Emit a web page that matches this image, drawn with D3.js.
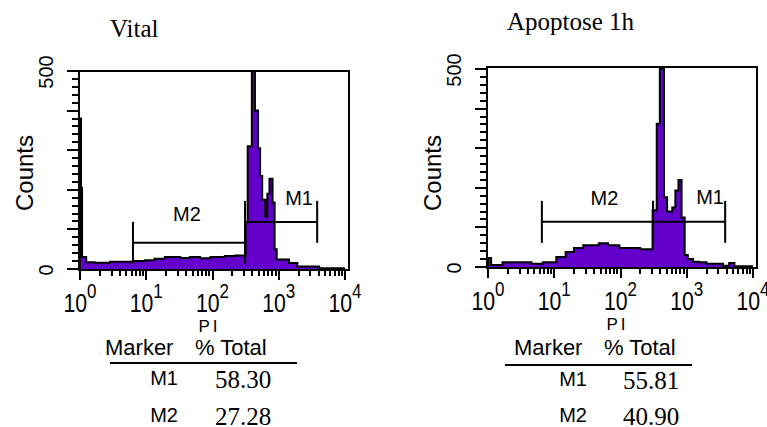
<!DOCTYPE html>
<html><head><meta charset="utf-8">
<script src="https://cdn.jsdelivr.net/npm/d3@7"></script>
<style>body{margin:0;background:#fff}svg{display:block}</style>
</head><body>
<svg id="chart" width="767" height="427"></svg>
<script>
// ---------- data ----------
const panelTitles = ["Vital", "Apoptose 1h"];
// histogram runs: start channel (256 channels over 4 log decades) and counts
const vitalChannels = [0,1,2,6,14,29,51,63,72,82,97,106,116,126,140,150,160,162,166,169,172,174,176,179,181,183,186,188,190,202,210,231];
const vitalCounts   = [380,205,30,17,16,18,20,22,26,30,28,30,27,30,33,34,118,310,500,400,305,235,175,132,190,228,168,50,24,15,6,2];
const apoChannels = [0,3,14,42,53,66,75,83,92,107,116,127,147,159,163,166,170,173,178,181,184,187,190,193,198,204,211,227,233,238];
const apoCounts   = [23,5,12,8,12,25,38,48,55,60,55,48,45,143,362,500,176,140,150,193,220,125,30,20,13,12,8,3,10,2];
const markerNames = ["M1", "M2"];
const vitalGates = [[310, 3800], [6.3, 310]];
const apoGates   = [[310, 3800], [6.5, 310]];
const vitalPercent = [58.30, 27.28];
const apoPercent   = [55.81, 40.90];
const xTickExponents = [0, 1, 2, 3, 4];
const yTickLabels = [0, 500];
const xAxisLabel = "PI";
const yAxisLabel = "Counts";
const tableHeader = ["Marker", "% Total"];

// ---------- layout ----------
const panels = [
  {title: panelTitles[0], ch: vitalChannels, counts: vitalCounts, gates: vitalGates, pct: vitalPercent,
   x0: 80, x1: 345, y0: 269, y1: 71, frame: [79, 71, 349, 270], titleX: 110, titleY: 37,
   markerY: [119, 66], labelDx: [18, -2], labelGap: [17, 22],
   tb: {markerX: 105, totalX: 195, rule: [110, 297], ruleY: 363, headY: 355, nameRight: 178, valX: 215, rowY: [385, 422]}},
  {title: panelTitles[1], ch: apoChannels, counts: apoCounts, gates: apoGates, pct: apoPercent,
   x0: 488, x1: 753, y0: 267, y1: 69, frame: [487, 67, 757, 268], titleX: 507, titleY: 30,
   markerY: [114, 114], labelDx: [21, 7], labelGap: [18, 17],
   tb: {markerX: 514, totalX: 604, rule: [505, 692], ruleY: 365, headY: 355, nameRight: 587, valX: 623, rowY: [386, 422]}}
];

const SANS = "'Liberation Sans', Arial, Helvetica, sans-serif";
const SERIF = "'Liberation Serif', 'Times New Roman', serif";
const FILL = "#6300cc";
const svg = d3.select("#chart");

panels.forEach((p, pi) => {
  const x = d3.scaleLog().domain([1, 1e4]).range([p.x0, p.x1]);
  const y = d3.scaleLinear().domain([0, 500]).range([p.y0, p.y1]);
  const g = svg.append("g");

  g.append("text").attr("x", p.titleX).attr("y", p.titleY)
    .attr("font-family", SERIF).attr("font-size", 25).text(p.title);

  const [fx0, fy0, fx1, fy1] = p.frame;
  const cid = "clip" + pi;
  svg.append("clipPath").attr("id", cid).append("rect")
    .attr("x", fx0).attr("y", fy0).attr("width", fx1 - fx0).attr("height", fy1 - fy0);

  // histogram
  const pts = p.ch.map((c, i) => ({v: Math.pow(10, c / 64), n: p.counts[i]}));
  pts.push({v: 1e4, n: p.counts[p.counts.length - 1]});
  const area = d3.area().curve(d3.curveStepAfter)
    .x(d => x(d.v)).y0(y(0)).y1(d => y(d.n));
  const line = d3.line().curve(d3.curveStepAfter)
    .x(d => x(d.v)).y(d => y(d.n));
  const hg = g.append("g").attr("clip-path", `url(#${cid})`);
  hg.append("path").datum(pts).attr("d", area).attr("fill", FILL);
  hg.append("path").datum([{v: 1, n: 0}].concat(pts)).attr("d", line)
    .attr("fill", "none").attr("stroke", "#000").attr("stroke-width", 2);

  // frame
  g.append("rect").attr("x", fx0).attr("y", fy0).attr("width", fx1 - fx0).attr("height", fy1 - fy0)
    .attr("fill", "none").attr("stroke", "#000").attr("stroke-width", 2);

  // y ticks (major every 100, minor every 20) drawn as filled rects
  const yt = d3.range(0, 501, 20);
  g.append("g").selectAll("rect").data(yt).join("rect")
    .attr("x", d => fx0 - (d % 100 === 0 ? 12 : 7))
    .attr("y", d => Math.round(y(d)) - 1)
    .attr("width", d => (d % 100 === 0 ? 12 : 7))
    .attr("height", 2)
    .attr("fill", "#000");
  g.append("g").selectAll("text").data(yTickLabels).join("text")
    .attr("transform", d => `translate(${p.x0 - 27},${y(d) + 1}) rotate(-90)`)
    .attr("text-anchor", "middle").attr("font-family", SANS).attr("font-size", 20)
    .text(d => d);
  g.append("text").attr("transform", `translate(${p.x0 - 47},173) rotate(-90)`)
    .attr("text-anchor", "middle").attr("font-family", SANS).attr("font-size", 24)
    .text(yAxisLabel);

  // x ticks (log decades with 2..9 minor ticks)
  const xt = [];
  for (let e = 0; e < 4; e++) for (let k = 1; k < 10; k++) xt.push({v: k * Math.pow(10, e), major: k === 1});
  xt.push({v: 1e4, major: true});
  g.append("g").selectAll("rect").data(xt).join("rect")
    .attr("x", d => Math.round(x(d.v)) - 1)
    .attr("y", fy1)
    .attr("width", 2)
    .attr("height", d => (d.major ? 10 : 6))
    .attr("fill", "#000");
  const xl = g.append("g").selectAll("text").data(xTickExponents).join("text")
    .attr("transform", d => `translate(${x(Math.pow(10, d))},${p.y0 + 43}) scale(0.85,1)`)
    .attr("text-anchor", "middle").attr("font-family", SANS).attr("font-size", 25);
  xl.append("tspan").text("10");
  xl.append("tspan").attr("dy", -14).attr("font-size", 20).text(d => d);
  g.append("text").attr("x", x(100) - 3).attr("y", p.y0 + 63)
    .attr("text-anchor", "middle").attr("font-family", SANS).attr("font-size", 17)
    .attr("letter-spacing", 3).text(xAxisLabel);

  // markers
  markerNames.forEach((m, i) => {
    const [a, b] = p.gates[i];
    const my = y(p.markerY[i]);
    const mg = g.append("g").attr("stroke", "#000").attr("stroke-width", 2);
    mg.append("line").attr("x1", x(a)).attr("x2", x(b)).attr("y1", my).attr("y2", my);
    mg.append("line").attr("x1", x(a)).attr("x2", x(a)).attr("y1", my - 21).attr("y2", my + 21);
    mg.append("line").attr("x1", x(b)).attr("x2", x(b)).attr("y1", my - 21).attr("y2", my + 21);
    g.append("text").attr("x", (x(a) + x(b)) / 2 + p.labelDx[i]).attr("y", my - p.labelGap[i])
      .attr("text-anchor", "middle").attr("font-family", SANS).attr("font-size", 20).text(m);
  });

  // table
  const t = p.tb;
  g.append("text").attr("x", t.markerX).attr("y", t.headY).attr("font-family", SANS).attr("font-size", 22).text(tableHeader[0]);
  g.append("text").attr("x", t.totalX).attr("y", t.headY).attr("font-family", SANS).attr("font-size", 22).text(tableHeader[1]);
  g.append("line").attr("x1", t.rule[0]).attr("x2", t.rule[1]).attr("y1", t.ruleY).attr("y2", t.ruleY)
    .attr("stroke", "#000").attr("stroke-width", 2);
  markerNames.forEach((m, i) => {
    g.append("text").attr("x", t.nameRight).attr("y", t.rowY[i]).attr("text-anchor", "end")
      .attr("font-family", SANS).attr("font-size", 20).text(m);
    g.append("text").attr("x", t.valX).attr("y", t.rowY[i] + 3)
      .attr("font-family", SERIF).attr("font-size", 25).text(p.pct[i].toFixed(2));
  });
});
</script>
</body></html>
